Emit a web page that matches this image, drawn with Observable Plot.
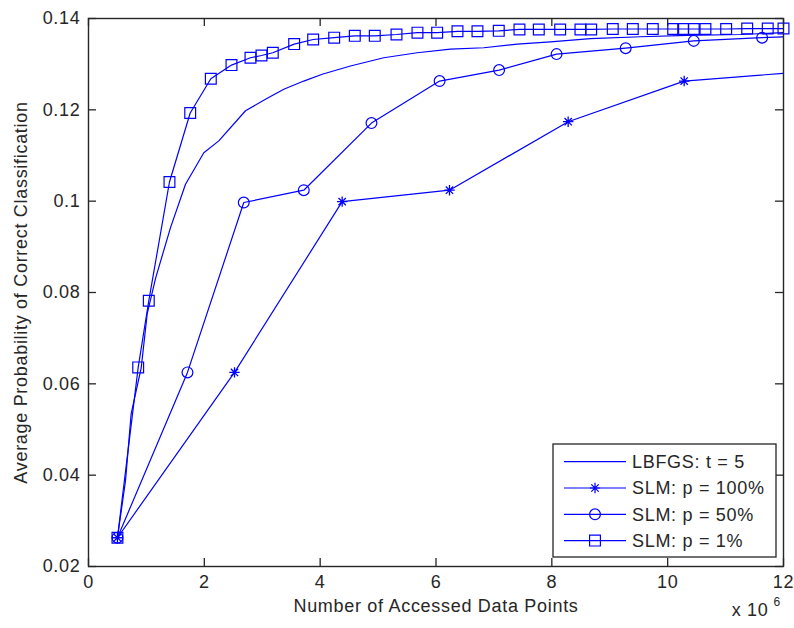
<!DOCTYPE html>
<html><head><meta charset="utf-8">
<script src="https://cdn.jsdelivr.net/npm/d3@7"></script>
<script src="https://cdn.jsdelivr.net/npm/@observablehq/plot@0.6"></script>
<style>
body{margin:0;background:#fff;}
#chart{position:relative;width:794px;height:628px;}
#chart svg{display:block;}
#legend{position:absolute;left:0;top:0;pointer-events:none;}
</style></head><body><div id="chart"></div>
<script>
// ---- data (x in units of 10^6 accessed data points) ----
const lbfgsX = [0.5, 0.639, 0.737, 0.910, 1.013, 1.16, 1.416, 1.675, 1.991, 2.250, 2.711, 3.056, 3.372, 3.717, 4.035, 4.523, 5.098, 5.675, 6.250, 6.825, 7.402, 7.977, 8.667, 9.530, 10.337, 11.257, 12.0];
const lbfgsY = [0.0263, 0.0388, 0.0535, 0.0635, 0.0753, 0.0832, 0.0942, 0.1037, 0.1106, 0.1132, 0.1198, 0.1223, 0.1245, 0.1263, 0.1278, 0.1296, 0.1314, 0.1325, 0.1333, 0.1336, 0.1344, 0.1349, 0.1356, 0.1360, 0.1363, 0.1365, 0.1369];

const p100X = [0.5, 2.521, 4.380, 6.233, 8.282, 10.285, 12.0];
const p100Y = [0.0263, 0.0625, 0.0999, 0.1024, 0.1174, 0.1263, 0.1280];
const p100Marked = [true, true, true, true, true, true, false];

const p50X = [0.5, 1.709, 2.681, 3.717, 4.886, 6.062, 7.090, 8.082, 9.275, 10.451, 11.631, 12.0];
const p50Y = [0.0263, 0.0625, 0.0997, 0.1024, 0.1171, 0.1263, 0.1287, 0.1322, 0.1335, 0.1351, 0.1358, 0.1360];
const p50Marked = [true, true, true, true, true, true, true, true, true, true, true, false];

const p1X = [0.5, 0.858, 1.041, 1.398, 1.756, 2.112, 2.469, 2.797, 2.987, 3.182, 3.551, 3.879, 4.242, 4.598, 4.943, 5.318, 5.680, 6.020, 6.371, 6.716, 7.084, 7.441, 7.775, 8.144, 8.494, 8.679, 9.052, 9.398, 9.743, 10.095, 10.268, 10.451, 10.652, 11.010, 11.373, 11.728, 12.0];
const p1Y = [0.0263, 0.0636, 0.0782, 0.1042, 0.1193, 0.1268, 0.1298, 0.1314, 0.1319, 0.1325, 0.1344, 0.1354, 0.1358, 0.1362, 0.1362, 0.1365, 0.1369, 0.1369, 0.1372, 0.1372, 0.1373, 0.1376, 0.1376, 0.1376, 0.1376, 0.1376, 0.1377, 0.1377, 0.1377, 0.1377, 0.1377, 0.1377, 0.1377, 0.1377, 0.1378, 0.1378, 0.1378];

const seriesNames = ["LBFGS: t = 5", "SLM: p = 100%", "SLM: p = 50%", "SLM: p = 1%"];
const xTicks = [0, 2, 4, 6, 8, 10, 12];
const xTickLabels = ["0", "2", "4", "6", "8", "10", "12"];
const yTicks = [0.02, 0.04, 0.06, 0.08, 0.10, 0.12, 0.14];
const yTickLabels = ["0.02", "0.04", "0.06", "0.08", "0.1", "0.12", "0.14"];
const xLabel = "Number of Accessed Data Points";
const yLabel = "Average Probability of Correct Classification";
const xExpBase = "x 10";
const xExp = "6";

// ---- build tables ----
const toRows = (xs, ys, marked) => xs.map((x, i) => ({x, y: ys[i], m: marked ? marked[i] : true}));
const lbfgs = toRows(lbfgsX, lbfgsY);
const p100 = toRows(p100X, p100Y, p100Marked);
const p50 = toRows(p50X, p50Y, p50Marked);
const p1 = toRows(p1X, p1Y);

const BLUE = "#0000ff";
const INK = "#262626";
const FONT = "'Liberation Sans', Arial, Helvetica, sans-serif";

// MATLAB-style 8-arm asterisk
const asterisk = {
  draw(ctx, size) {
    const r = Math.sqrt(size / Math.PI), d = r * Math.SQRT1_2;
    ctx.moveTo(-r, 0); ctx.lineTo(r, 0);
    ctx.moveTo(0, -r); ctx.lineTo(0, r);
    ctx.moveTo(-d, -d); ctx.lineTo(d, d);
    ctx.moveTo(-d, d); ctx.lineTo(d, -d);
  }
};

const W = 794, H = 628;
const mL = 88, mR = 11, mT = 18, mB = 62;
const plotH = H - mT - mB, plotW = W - mL - mR;
const TICK = 8;

const chart = Plot.plot({
  width: W, height: H,
  marginLeft: mL, marginRight: mR, marginTop: mT, marginBottom: mB,
  style: {fontFamily: FONT, fontSize: "18px", color: INK, background: "#fff", letterSpacing: "0.7px"},
  x: {domain: [0, 12], ticks: xTicks},
  y: {domain: [0.02, 0.14], ticks: yTicks},
  marks: [
    Plot.axisX(xTicks, {tickSize: 0, tickPadding: 9, fontSize: 18, fill: INK, label: null,
      tickFormat: d => xTickLabels[xTicks.indexOf(d)]}),
    Plot.axisY(yTicks, {tickSize: 0, tickPadding: 8, fontSize: 18, fill: INK, label: null,
      tickFormat: d => yTickLabels[yTicks.indexOf(d)]}),
    // inward ticks on all four sides
    Plot.ruleX(xTicks, {x: d => d, insetTop: plotH - TICK, stroke: INK, strokeWidth: 1.3}),
    Plot.ruleX(xTicks, {x: d => d, insetBottom: plotH - TICK, stroke: INK, strokeWidth: 1.3}),
    Plot.ruleY(yTicks, {y: d => d, insetRight: plotW - TICK, stroke: INK, strokeWidth: 1.3}),
    Plot.ruleY(yTicks, {y: d => d, insetLeft: plotW - TICK, stroke: INK, strokeWidth: 1.3}),
    // series
    Plot.line(lbfgs, {x: "x", y: "y", stroke: BLUE, strokeWidth: 1.2, clip: true}),
    Plot.line(p100, {x: "x", y: "y", stroke: BLUE, strokeWidth: 1.2, clip: true}),
    Plot.dot(p100.filter(d => d.m), {x: "x", y: "y", symbol: asterisk, r: 5.2, stroke: BLUE, fill: "none", strokeWidth: 1.3}),
    Plot.line(p50, {x: "x", y: "y", stroke: BLUE, strokeWidth: 1.2, clip: true}),
    Plot.dot(p50.filter(d => d.m), {x: "x", y: "y", symbol: "circle", r: 5.4, stroke: BLUE, fill: "none", strokeWidth: 1.2}),
    Plot.line(p1, {x: "x", y: "y", stroke: BLUE, strokeWidth: 1.2, clip: true}),
    Plot.dot(p1, {x: "x", y: "y", symbol: "square", r: 6.1, stroke: BLUE, fill: "none", strokeWidth: 1.2}),
    Plot.frame({stroke: INK, strokeWidth: 1.4}),
    // labels
    Plot.text([xLabel], {text: d => d, frameAnchor: "bottom", textAnchor: "middle", dy: 45, fontSize: 18, fill: INK}),
    Plot.text([yLabel], {text: d => d, frameAnchor: "left", textAnchor: "middle", rotate: -90, dx: -67, fontSize: 18, fill: INK}),
    Plot.text([xExpBase], {text: d => d, frameAnchor: "bottom-right", textAnchor: "end", dx: -15, dy: 49, fontSize: 18, fill: INK}),
    Plot.text([xExp], {text: d => d, frameAnchor: "bottom-right", textAnchor: "start", dx: -10, dy: 39, fontSize: 12, fill: INK})
  ]
});

const host = document.getElementById("chart");
host.appendChild(chart);

// ---- legend (inside the axes, lower right) ----
const lg = d3.select(host).append("svg").attr("id", "legend").attr("width", W).attr("height", H)
  .style("font-family", FONT).style("font-size", "18px").style("letter-spacing", "0.7px");
const box = {x: 553, y: 444, w: 223, h: 113};
lg.append("rect").attr("x", box.x).attr("y", box.y).attr("width", box.w).attr("height", box.h)
  .attr("fill", "#fff").attr("stroke", INK).attr("stroke-width", 1.3);
const rowY = i => box.y + 17.7 + i * 26.3;
const markers = [null, asterisk, d3.symbolCircle, d3.symbolSquare];
const msize = [0, Math.PI * 5.2 * 5.2, Math.PI * 5.4 * 5.4, Math.PI * 6.1 * 6.1];
seriesNames.forEach((name, i) => {
  const y = rowY(i);
  lg.append("line").attr("x1", box.x + 11).attr("x2", box.x + 73).attr("y1", y).attr("y2", y)
    .attr("stroke", BLUE).attr("stroke-width", 1.2);
  if (markers[i]) {
    lg.append("path").attr("d", d3.symbol(markers[i], msize[i])())
      .attr("transform", `translate(${box.x + 42},${y})`)
      .attr("fill", "none").attr("stroke", BLUE).attr("stroke-width", 1.2);
  }
  lg.append("text").attr("x", box.x + 79).attr("y", y).attr("dy", "0.35em")
    .attr("fill", INK).text(name);
});
</script></body></html>
